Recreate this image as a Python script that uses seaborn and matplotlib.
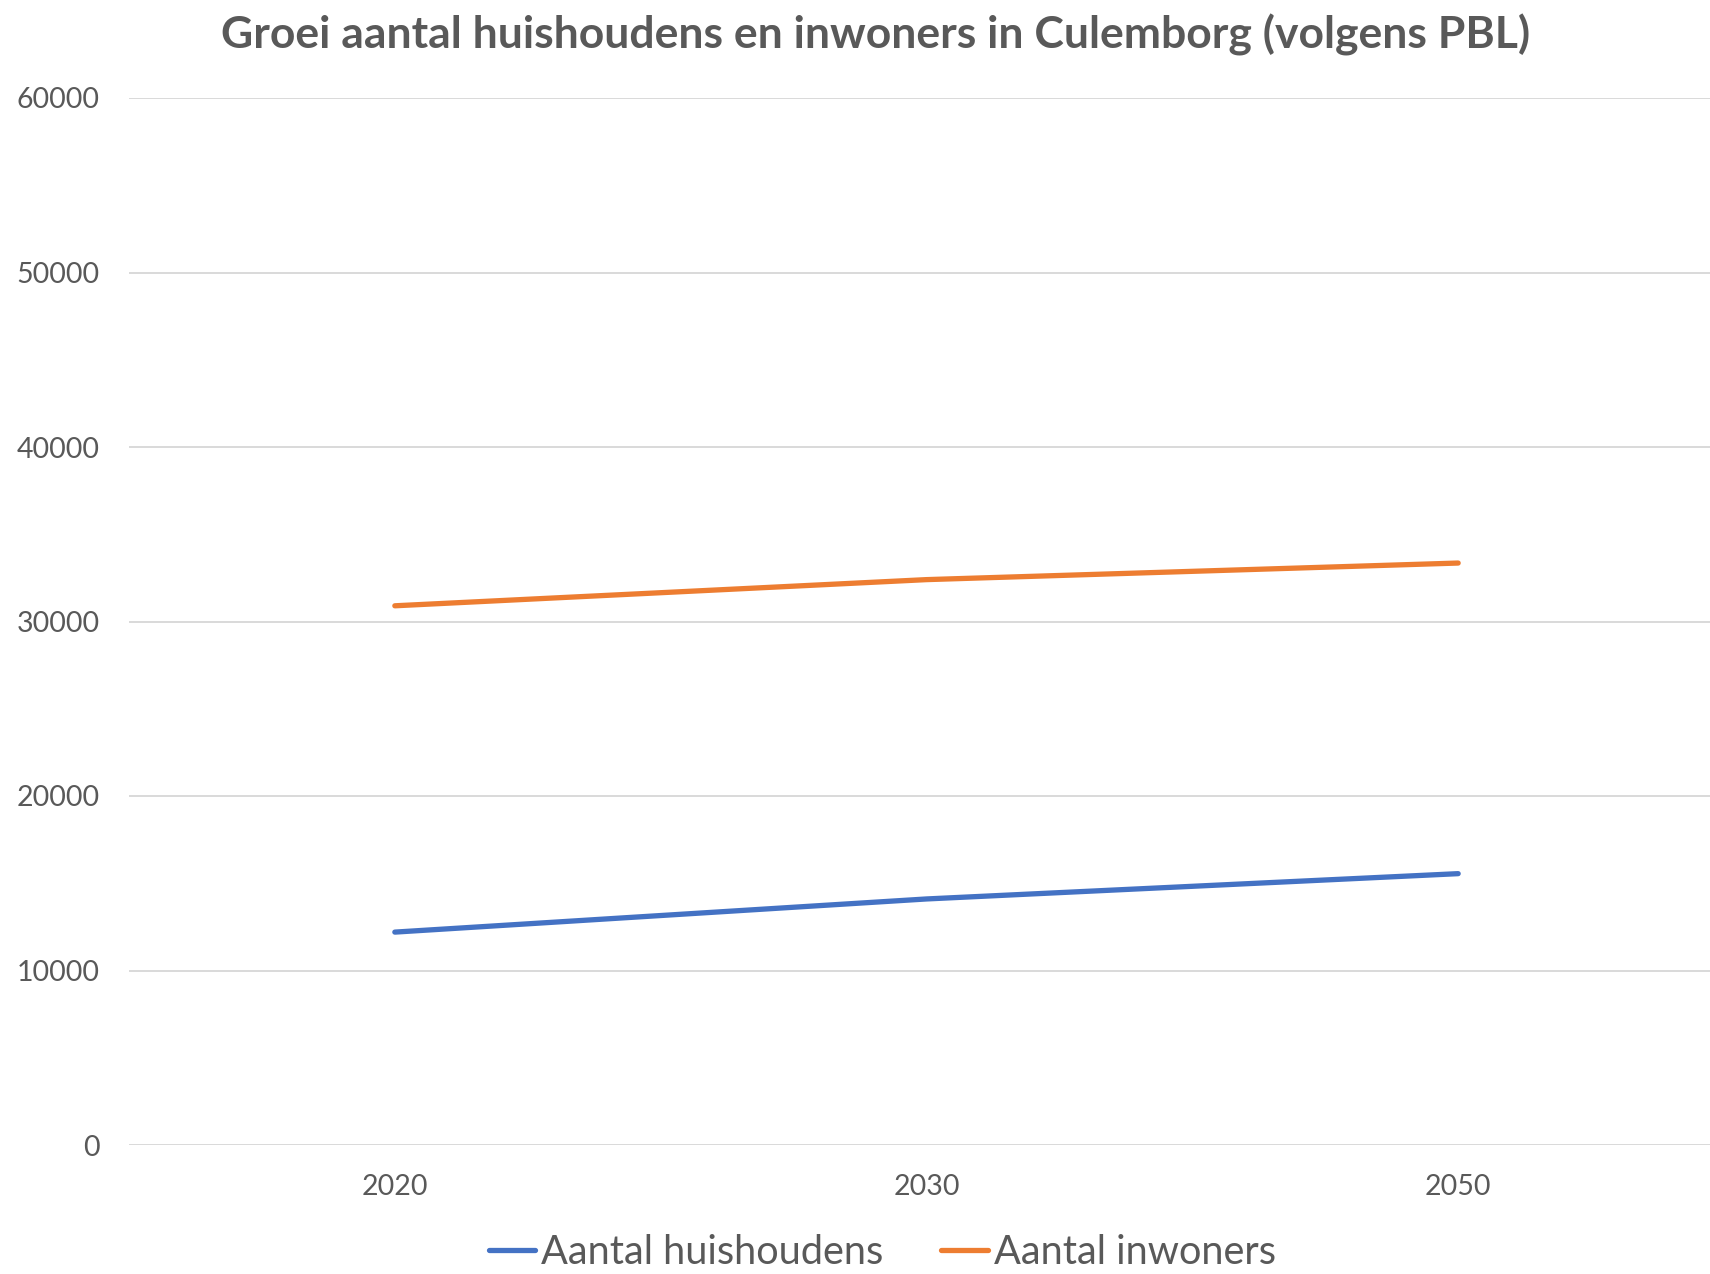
import matplotlib
matplotlib.use("Agg")
import matplotlib.pyplot as plt
import seaborn as sns
import pandas as pd
from matplotlib.lines import Line2D

years = ["2020", "2030", "2050"]
huishoudens = [12200, 14100, 15550]
inwoners = [30900, 32400, 33350]
series_names = ["Aantal huishoudens", "Aantal inwoners"]
colors = ["#4472C4", "#ED7D31"]
yticks = [0, 10000, 20000, 30000, 40000, 50000, 60000]

sns.set_theme(style="white")
plt.rcParams['font.family'] = ['Lato', 'DejaVu Sans']

df = pd.DataFrame({
    "jaar": years * 2,
    "waarde": huishoudens + inwoners,
    "reeks": [series_names[0]] * 3 + [series_names[1]] * 3,
})

fig = plt.figure(figsize=(17.1, 12.74), dpi=100)
ax = fig.add_axes([129/1710, 1 - 1145/1274, 1595/1710, (1145 - 98)/1274])

sns.lineplot(data=df, x="jaar", y="waarde", hue="reeks", palette=colors,
             linewidth=3.8, ax=ax, sort=False, legend=False,
             solid_capstyle="round")

ax.set_xlim(-0.5, 2.5)
ax.set_ylim(0, 60000)
ax.set_yticks(yticks)
ax.set_yticklabels([str(v) for v in yticks])
ax.grid(axis="y", color="#D9D9D9", linewidth=1.4)
ax.set_axisbelow(True)
for s in ax.spines.values():
    s.set_visible(False)
ax.tick_params(axis="both", length=0, labelsize=20.5, labelcolor="#595959")
ax.tick_params(axis="y", pad=21)
ax.tick_params(axis="x", pad=21)
ax.set_xlabel("")
ax.set_ylabel("")

fig.text(876/1710, 1 - 35/1274, "Groei aantal huishoudens en inwoners in Culemborg (volgens PBL)",
         ha="center", va="center", fontsize=32, fontweight="bold", color="#595959")

handles = [Line2D([0], [0], color=c, linewidth=3.8, solid_capstyle="round") for c in colors]
fig.legend(handles, series_names, loc="center", bbox_to_anchor=(0.516, 1 - 1252/1274),
           ncol=2, frameon=False, fontsize=28.6, labelcolor="#595959",
           handlelength=1.18, handletextpad=0.15, columnspacing=1.45)

fig.savefig("out.png", dpi=100)
